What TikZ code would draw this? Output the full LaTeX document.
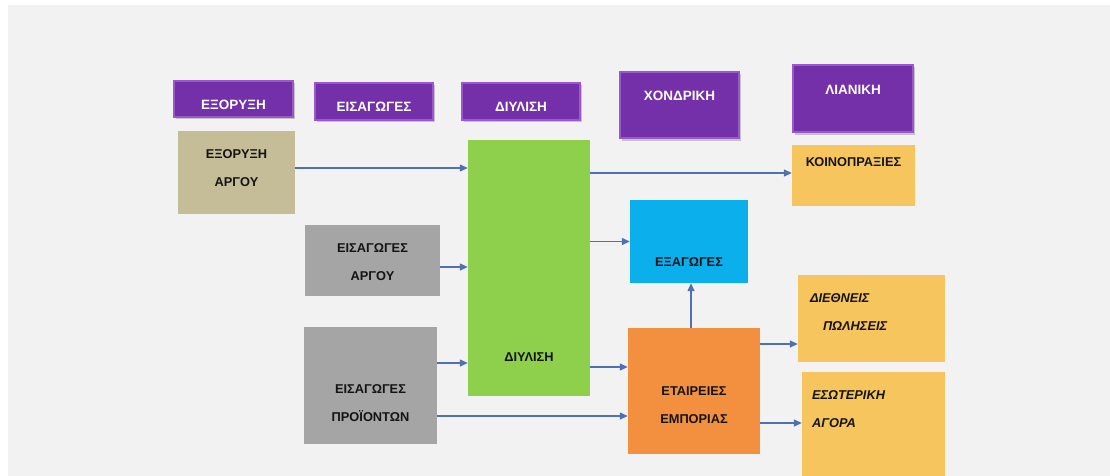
\documentclass[tikz,border=0pt]{standalone}
\usepackage{fontspec}
\setmainfont{Liberation Sans}
\usepackage{tikz}
\usetikzlibrary{arrows.meta,shadows}
\usepackage{xcolor}
\definecolor{bggray}{HTML}{F2F2F2}
\definecolor{hdrface}{HTML}{7430A8}
\definecolor{hdrrim}{HTML}{9A58CC}
\definecolor{tanbox}{HTML}{C4BD97}
\definecolor{graybox}{HTML}{A5A5A5}
\definecolor{greenbox}{HTML}{8ED04C}
\definecolor{bluebox}{HTML}{0AAFEC}
\definecolor{orangebox}{HTML}{F29040}
\definecolor{yellowbox}{HTML}{F6C55E}
\definecolor{arrblue}{HTML}{5070B4}
\newcommand{\bxfont}{\fontsize{12.8}{28}\selectfont\bfseries}
\newcommand{\hdfont}{\fontsize{13.5}{28}\selectfont\bfseries}
\newcommand{\btxt}[3][c]{\raisebox{#2}[0pt][0pt]{\begin{tabular}{@{}#1@{}}#3\end{tabular}}}
\tikzstyle{hdr}=[inner sep=0pt, fill=hdrface, draw=hdrrim, line width=2.5pt, text=white, font=\hdfont,
  drop shadow={shadow xshift=2pt, shadow yshift=-2.5pt, opacity=0.4}]
\tikzstyle{bx}=[inner sep=0pt, font=\bxfont, text=black!92]
\tikzstyle{ybx}=[bx, fill=yellowbox, font=\bxfont\itshape]
\tikzstyle{arr}=[draw=arrblue, line width=1.3pt, -{Triangle[length=8pt,width=7pt]}]

\begin{document}
\begin{tikzpicture}[x=1pt,y=-1pt]
\useasboundingbox (0,0) rectangle (1110,476);
\fill[white] (0,0) rectangle (1110,476);
\fill[bggray] (8,5) rectangle (1110,476);

\node[hdr, minimum width=119, minimum height=36] (h1) at (233.5,99) {\btxt{-8.5pt}{ΕΞΟΡΥΞΗ}};
\node[hdr, minimum width=118, minimum height=37] (h2) at (374,101.5) {\btxt{-8.5pt}{ΕΙΣΑΓΩΓΕΣ}};
\node[hdr, minimum width=118, minimum height=37] (h3) at (521,101.5) {\btxt{-8.5pt}{ΔΙΥΛΙΣΗ}};
\node[hdr, minimum width=119, minimum height=66] (h4) at (679.5,105) {\btxt{6.3pt}{ΧΟΝΔΡΙΚΗ}};
\node[hdr, minimum width=120, minimum height=67] (h5) at (853,98.5) {\btxt{6.3pt}{ΛΙΑΝΙΚΗ}};

\node[bx, fill=tanbox, minimum width=117, minimum height=83] (exo) at (236.5,172.5) {\btxt{2.8pt}{ΕΞΟΡΥΞΗ\\ΑΡΓΟΥ}};
\node[bx, fill=graybox, minimum width=135, minimum height=71] (eisa) at (372.5,260.5) {\btxt{-3.7pt}{ΕΙΣΑΓΩΓΕΣ\\ΑΡΓΟΥ}};
\node[bx, fill=graybox, minimum width=133, minimum height=117] (eisp) at (370.5,385.5) {\btxt{-19.2pt}{ΕΙΣΑΓΩΓΕΣ\\ΠΡΟΪΟΝΤΩΝ}};
\node[bx, fill=greenbox, minimum width=122, minimum height=256] (diy) at (529,268) {\btxt{-91.2pt}{ΔΙΥΛΙΣΗ}};
\node[bx, fill=yellowbox, minimum width=123, minimum height=61] (koin) at (853.5,175.5) {\btxt{11.3pt}{ΚΟΙΝΟΠΡΑΞΙΕΣ}};
\node[bx, fill=bluebox, minimum width=118, minimum height=83] (exag) at (689,241.5) {\btxt{-22.2pt}{ΕΞΑΓΩΓΕΣ}};
\node[bx, fill=orangebox, minimum width=132, minimum height=126] (emp) at (694,391) {\btxt{-15.7pt}{ΕΤΑΙΡΕΙΕΣ\\ΕΜΠΟΡΙΑΣ}};
\node[ybx, minimum width=147, minimum height=87] (dieth) at (871.5,318.5)
  {\makebox[147pt][l]{\hspace{12pt}\btxt[l]{4.3pt}{ΔΙΕΘΝΕΙΣ\\\hspace{13pt}ΠΩΛΗΣΕΙΣ}}};
\node[ybx, minimum width=143, minimum height=104] (esot) at (873.5,424)
  {\makebox[143pt][l]{\hspace{10pt}\btxt[l]{13.3pt}{ΕΣΩΤΕΡΙΚΗ\\ΑΓΟΡΑ}}};

\draw[arr] ([yshift=4.5pt]exo.east) -- ([yshift=4.5pt]exo.east -| diy.west);
\draw[arr] ([yshift=-6.5pt]eisa.east) -- ([yshift=-6.5pt]eisa.east -| diy.west);
\draw[arr] ([yshift=22.5pt]eisp.east) -- ([yshift=22.5pt]eisp.east -| diy.west);
\draw[arr] ([yshift=2.5pt]koin.west -| diy.east) -- ([yshift=2.5pt]koin.west);
\draw[arr] (exag.west -| diy.east) -- (exag.west);
\draw[arr] ([yshift=24pt]emp.west -| diy.east) -- ([yshift=24pt]emp.west);
\draw[arr] ([yshift=-30.5pt]eisp.east) -- ([yshift=-30.5pt]eisp.east -| emp.west);
\draw[arr] ([xshift=-3pt]emp.north) -- ([xshift=-3pt]emp.north |- exag.south);
\draw[arr] ([yshift=47pt]emp.east) -- ([yshift=47pt]emp.east -| dieth.west);
\draw[arr] ([yshift=-32pt]emp.east) -- ([yshift=-32pt]emp.east -| esot.west);
\end{tikzpicture}
\end{document}
